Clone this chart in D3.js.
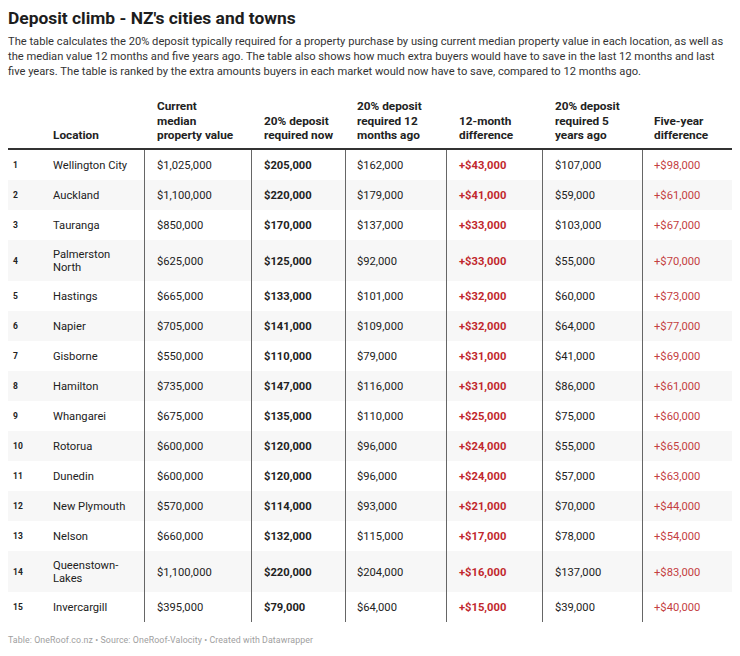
<!DOCTYPE html>
<html><head><meta charset="utf-8">
<script src="https://cdn.jsdelivr.net/npm/d3@7"></script>
<style>
body{margin:0;background:#fff;font-family:Roboto,"Noto Sans",sans-serif;}
svg text{font-family:Roboto,"Noto Sans",sans-serif;}
</style></head>
<body>
<svg id="chart" width="740" height="656"></svg>
<script>
const title = "Deposit climb - NZ's cities and towns";
const description = [
  "The table calculates the 20% deposit typically required for a property purchase by using current median property value in each location, as well as",
  "the median value 12 months and five years ago. The table also shows how much extra buyers would have to save in the last 12 months and last",
  "five years. The table is ranked by the extra amounts buyers in each market would now have to save, compared to 12 months ago."
];
const footer = "Table: OneRoof.co.nz \u2022 Source: OneRoof-Valocity \u2022 Created with Datawrapper";
const headers = [
  [""], ["Location"], ["Current","median","property value"], ["20% deposit","required now"],
  ["20% deposit","required 12","months ago"], ["12-month","difference"], ["20% deposit","required 5","years ago"], ["Five-year","difference"]
];
const locations = ["Wellington City","Auckland","Tauranga","Palmerston North","Hastings","Napier","Gisborne","Hamilton","Whangarei","Rotorua","Dunedin","New Plymouth","Nelson","Queenstown-Lakes","Invercargill"];
const medianValue = [1025000,1100000,850000,625000,665000,705000,550000,735000,675000,600000,600000,570000,660000,1100000,395000];
const depositNow = [205000,220000,170000,125000,133000,141000,110000,147000,135000,120000,120000,114000,132000,220000,79000];
const deposit12m = [162000,179000,137000,92000,101000,109000,79000,116000,110000,96000,96000,93000,115000,204000,64000];
const diff12m = [43000,41000,33000,33000,32000,32000,31000,31000,25000,24000,24000,21000,17000,16000,15000];
const deposit5y = [107000,59000,103000,55000,60000,64000,41000,86000,75000,55000,57000,70000,78000,137000,39000];
const diff5y = [98000,61000,67000,70000,73000,77000,69000,61000,60000,65000,63000,44000,54000,83000,40000];

const svg = d3.select("#chart");
const fmt = d3.format("$,");
const plus = v => "+" + fmt(v);

svg.append("text").attr("x",8).attr("y",24).attr("font-size",17.4).attr("font-weight",700).attr("fill","#1d1d1d").text(title);
svg.selectAll("text.desc").data(description).join("text").attr("class","desc")
  .attr("x",8).attr("y",(d,i)=>45+i*15).attr("font-size",11.15).attr("fill","#333").text(d=>d);

const tableLeft = 8, tableRight = 732;
const colX = [13,53,157,264,357,459,555,654];
const borderX = [144,251,345,446,542,642];
const headerBottom = 149;

headers.forEach((lines,ci)=>{
  const n = lines.length;
  lines.forEach((l,li)=>{
    svg.append("text").attr("x",colX[ci]).attr("y",headerBottom-10-(n-1-li)*14.5)
      .attr("font-size",11.8).attr("font-weight",700).attr("fill","#222").text(l);
  });
});

const measure = svg.append("text").attr("font-size",11.2).attr("visibility","hidden");
function wrap(name){
  measure.text(name);
  if (measure.node().getComputedTextLength() <= 84) return [name];
  let idx = name.indexOf(" ");
  if (idx > 0) return [name.slice(0,idx), name.slice(idx+1)];
  idx = name.indexOf("-");
  return [name.slice(0,idx+1), name.slice(idx+1)];
}
const rows = locations.map((loc,i)=>({
  rank:i+1, lines:wrap(loc),
  vals:[fmt(medianValue[i]), fmt(depositNow[i]), fmt(deposit12m[i]), plus(diff12m[i]), fmt(deposit5y[i]), plus(diff5y[i])]
}));
measure.remove();
let y = headerBottom + 1;
rows.forEach(r=>{ r.h = r.lines.length>1 ? 41 : 30; r.y = y; y += r.h; });
const tableBottom = y;

const g = svg.append("g");
g.selectAll("rect.stripe").data(rows.filter(r=>r.rank%2===0)).join("rect")
  .attr("x",tableLeft).attr("width",tableRight-tableLeft).attr("y",d=>d.y).attr("height",d=>d.h).attr("fill","#f7f7f7");

const styles = [
  {w:400,c:"#222"},{w:700,c:"#222"},{w:400,c:"#222"},{w:700,c:"#c1272d"},{w:400,c:"#222"},{w:400,c:"#c4403f"}
];
rows.forEach(r=>{
  const cy = r.y + r.h/2;
  g.append("text").attr("x",colX[0]).attr("y",cy+3).attr("font-size",8.5).attr("font-weight",700).attr("fill","#222").text(r.rank);
  r.lines.forEach((l,li)=>{
    g.append("text").attr("x",colX[1]).attr("y",cy+4+(li-(r.lines.length-1)/2)*13.5).attr("font-size",11.2).attr("fill","#222").text(l);
  });
  r.vals.forEach((v,vi)=>{
    g.append("text").attr("x",colX[vi+2]).attr("y",cy+4).attr("font-size",11.2)
      .attr("font-weight",styles[vi].w).attr("fill",styles[vi].c).text(v);
  });
});

svg.selectAll("line.vb").data(borderX).join("line").attr("class","vb")
  .attr("x1",d=>d+0.5).attr("x2",d=>d+0.5).attr("y1",headerBottom).attr("y2",tableBottom)
  .attr("stroke","#666").attr("stroke-width",1);
svg.append("line").attr("x1",tableLeft).attr("x2",tableRight).attr("y1",headerBottom).attr("y2",headerBottom)
  .attr("stroke","#333").attr("stroke-width",2);

svg.append("text").attr("x",8).attr("y",643).attr("font-size",8.8)
  .attr("textLength",305).attr("lengthAdjust","spacing").attr("fill","#a0a0a0").text(footer);
</script>
</body></html>
